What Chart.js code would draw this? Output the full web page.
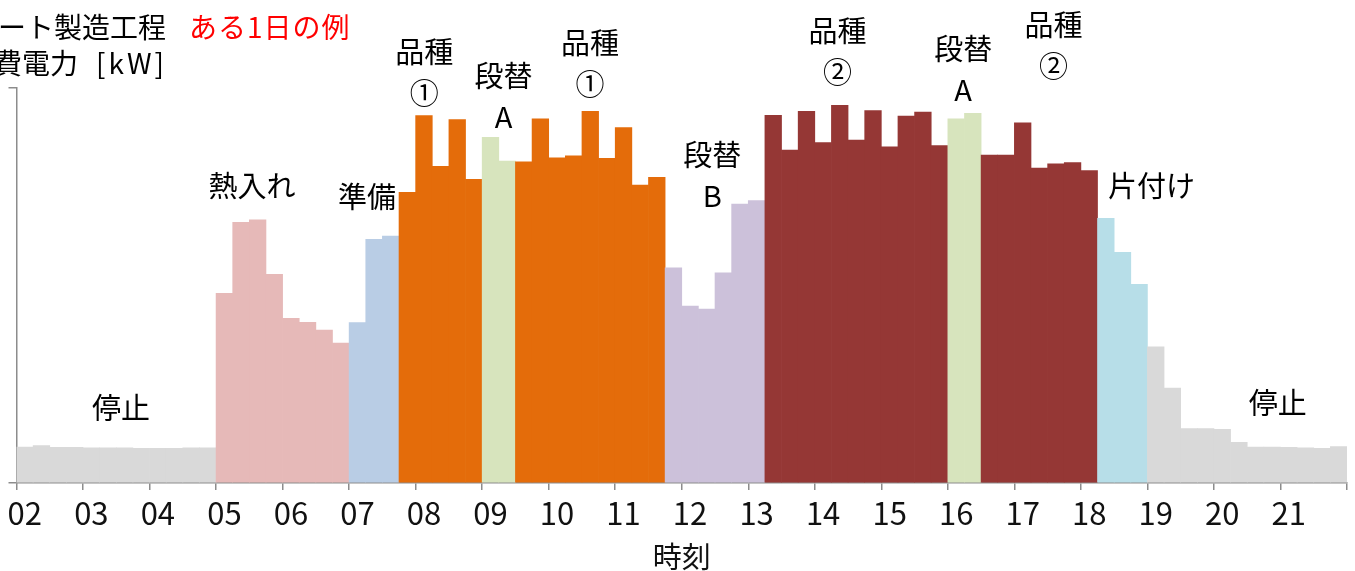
<!DOCTYPE html>
<html lang="ja">
<head>
<meta charset="utf-8">
<script src="https://cdn.jsdelivr.net/npm/chart.js@4"></script>
<style>
  html, body { margin: 0; padding: 0; background: #fff; }
  #wrap { width: 1355px; height: 571px; position: relative; }
</style>
</head>
<body>
<div id="wrap"><canvas id="powerChart"></canvas></div>
<script>
// 時刻（1時間ごとの目盛）
const hourTicks = ['02', '03', '04', '05', '06', '07', '08', '09', '10', '11',
                   '12', '13', '14', '15', '16', '17', '18', '19', '20', '21'];
const quarters = ['00', '15', '30', '45'];

// 15分ごとの消費電力（縦軸の最大値を100とした目安）
const power = [
  9.1, 9.5, 9.0, 9.0, 8.9, 8.9, 8.9, 8.8, 8.8, 8.8, 8.9, 8.9,   // 02-05 停止
  48.0, 66.0, 66.6, 52.8, 41.7, 40.7, 38.7, 35.4,               // 熱入れ
  40.6, 61.7, 62.5,                                             // 準備
  73.6, 93.0, 80.2, 92.0, 76.9,                                 // 品種①
  87.5, 81.5,                                                   // 段替A
  81.3, 92.2, 82.3, 82.8, 94.1, 82.2, 90.0, 75.4, 77.4,         // 品種①
  54.5, 44.8, 44.0, 53.2, 70.6, 71.5,                           // 段替B
  93.1, 84.3, 94.1, 86.2, 95.6, 86.8, 94.3, 85.1, 92.9, 93.9, 85.4, // 品種②
  92.2, 93.6,                                                   // 段替A
  83.0, 83.0, 91.2, 79.7, 80.8, 81.1, 79.1,                     // 品種②
  67.0, 58.4, 50.3,                                             // 片付け
  34.5, 24.0, 13.8, 13.8, 13.6, 10.3, 9.1, 9.1, 9.0, 8.9, 8.8, 9.2 // 停止
];

// 工程（名前と15分コマ数）
const phaseNames = ['停止', '熱入れ', '準備', '品種①', '段替A', '品種①', '段替B', '品種②', '段替A', '品種②', '片付け', '停止'];
const phaseSlots = [12, 8, 3, 5, 2, 9, 6, 11, 2, 7, 3, 12];
const phaseColors = {
  '停止': '#d9d9d9',
  '熱入れ': '#e6b9b8',
  '準備': '#b9cde5',
  '品種①': '#e46c0a',
  '段替A': '#d7e4bd',
  '段替B': '#ccc1da',
  '品種②': '#953735',
  '片付け': '#b7dee8'
};

// 注記（行, 時刻, 縦軸の値）
const noteTexts = [['停止'], ['熱入れ'], ['準備'], ['品種', '①'], ['段替', 'A'], ['品種', '①'],
                   ['段替', 'B'], ['品種', '②'], ['段替', 'A'], ['品種', '②'], ['片付け'], ['停止']];
const noteHours = [3.57, 5.54, 7.27, 8.13, 9.32, 10.62, 12.46, 14.34, 16.23, 17.59, 19.06, 20.96];
const noteValues = [19.0, 75.2, 72.4, 109.1, 103.0, 111.4, 83.0, 114.4, 109.9, 115.9, 75.2, 20.3];

const labels = [];
hourTicks.forEach(h => quarters.forEach(q => labels.push(h + ':' + q)));

const barColors = [];
phaseNames.forEach((name, i) => {
  for (let k = 0; k < phaseSlots[i]; k++) barColors.push(phaseColors[name]);
});

const FONT = '"Noto Sans CJK JP", "Noto Sans", sans-serif';
const AXIS = '#8c8c8c';
Chart.defaults.font.family = FONT;

const notesPlugin = {
  id: 'notes',
  afterDraw(chart) {
    const { ctx, chartArea, scales: { y } } = chart;
    const hourWidth = (chartArea.right - chartArea.left) / hourTicks.length;
    const firstHour = parseInt(hourTicks[0], 10);
    ctx.save();
    ctx.textAlign = 'center';
    ctx.textBaseline = 'middle';
    ctx.fillStyle = '#000';
    ctx.font = '29px ' + FONT;
    noteTexts.forEach((lines, i) => {
      const x = chartArea.left + (noteHours[i] - firstHour) * hourWidth;
      const top = y.getPixelForValue(noteValues[i]);
      lines.forEach((t, j) => ctx.fillText(t, x, top + j * 41));
    });

    // 左上のタイトル
    ctx.textAlign = 'left';
    ctx.font = '28px ' + FONT;
    ctx.fillText('ート製造工程', -2, 27);
    ctx.fillText('費電力', -6, 63);
    ctx.letterSpacing = '3px';
    ctx.fillText('[kW]', 96, 63);
    ctx.letterSpacing = '1px';
    ctx.fillStyle = '#ff0000';
    ctx.fillText('ある1日の例', 189, 27);
    ctx.restore();
  }
};

new Chart(document.getElementById('powerChart'), {
  type: 'bar',
  data: {
    labels: labels,
    datasets: [{
      label: '消費電力',
      data: power,
      backgroundColor: barColors,
      borderWidth: 0,
      barPercentage: 1,
      categoryPercentage: 1
    }]
  },
  options: {
    responsive: true,
    maintainAspectRatio: false,
    animation: false,
    layout: { padding: { top: 88, left: 0, right: 8, bottom: 0 } },
    plugins: { legend: { display: false }, tooltip: { enabled: false } },
    scales: {
      x: {
        offset: true,
        grid: {
          offset: true,
          drawOnChartArea: false,
          tickLength: 7,
          lineWidth: 1.5,
          color: (c) => (c.index === undefined || c.index % 4 === 0) ? AXIS : 'rgba(0,0,0,0)'
        },
        border: { color: AXIS, width: 1.5 },
        ticks: {
          autoSkip: false,
          maxRotation: 0,
          padding: 5,
          color: '#111',
          font: { size: 31 },
          callback: (v, i) => (i % 4 === 0 ? hourTicks[i / 4] : '')
        },
        title: { display: true, text: '時刻', color: '#111', font: { size: 29, lineHeight: 1 }, padding: 0 },
        afterFit: (s) => { s.height = 88; }
      },
      y: {
        min: 0,
        max: 100,
        ticks: { display: false, stepSize: 100 },
        grid: { drawOnChartArea: false, tickLength: 8, lineWidth: 1.5, color: AXIS },
        border: { color: AXIS, width: 1.5 },
        afterFit: (s) => { s.width = 16.5; }
      }
    }
  },
  plugins: [notesPlugin]
});
</script>
</body>
</html>
